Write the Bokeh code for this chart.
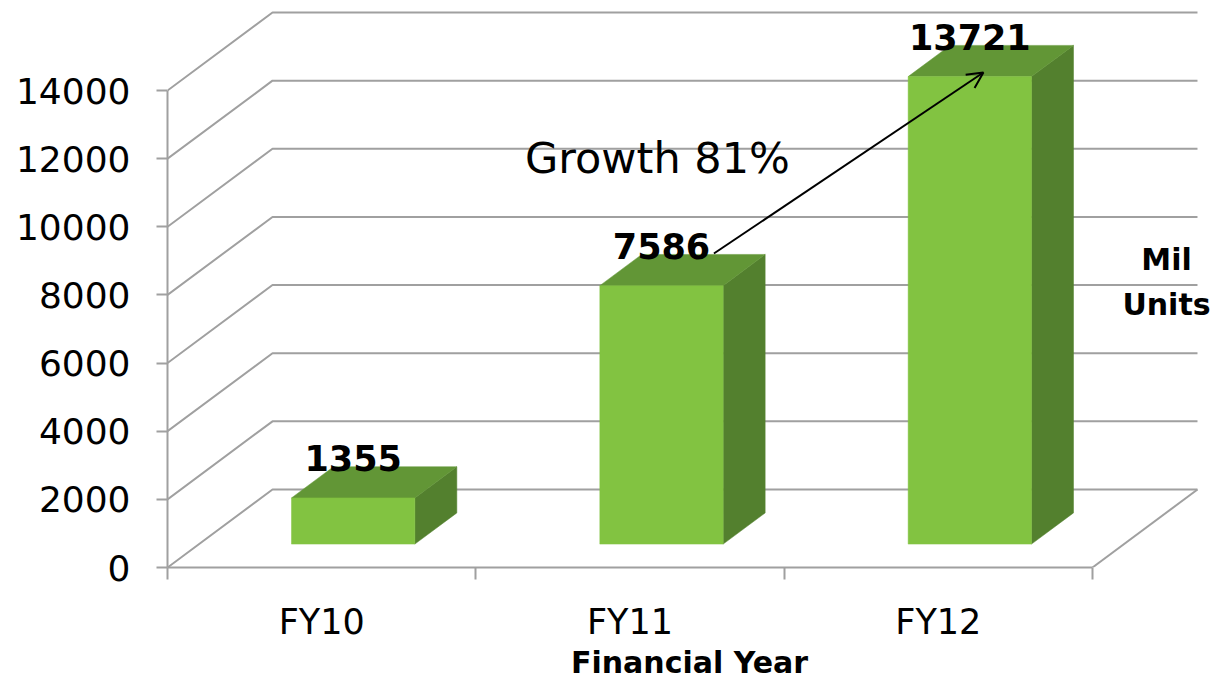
from bokeh.plotting import figure
from bokeh.models import Range1d, FixedTicker, Arrow, OpenHead
from bokeh.core.properties import value
from bokeh.embed import file_html
from bokeh.resources import INLINE

# ---- data ----
categories = ["FY10", "FY11", "FY12"]
units = [1355, 7586, 13721]
y_ticks = [0, 2000, 4000, 6000, 8000, 10000, 12000, 14000]
growth_text = "Growth 81%"
unit_lines = ["Mil", "Units"]
x_title = "Financial Year"

# ---- geometry (data units) ----
n = len(categories)
PX_PER_CAT = 308.33
PX_PER_UNIT = 477.0 / 14000.0
FRAME_W, FRAME_H = 1044, 567
X_END = FRAME_W / PX_PER_CAT
Y_END = FRAME_H / PX_PER_UNIT
DX = 105 / PX_PER_CAT          # full depth offset in x
DY = 78 / PX_PER_UNIT          # full depth offset in y
D0, D1 = 0.3, 0.7              # bar depth span
A, B = 0.3, 0.7                # bar width span inside a category
LABEL_GAP = 40 / PX_PER_UNIT

GRID = "#a0a0a0"
FRONT = "#82c341"
TOP = "#629636"
SIDE = "#53802e"
FONT = "DejaVu Sans"

p = figure(x_range=Range1d(0, X_END), y_range=Range1d(0, Y_END),
           frame_width=FRAME_W, frame_height=FRAME_H,
           min_border_left=167, min_border_bottom=113, min_border_top=0, min_border_right=0,
           output_backend="svg", toolbar_location=None)
p.xgrid.visible = False
p.ygrid.visible = False
p.outline_line_color = None
p.background_fill_color = "white"

# ---- back wall grid lines ----
gx, gy = [], []
for t in y_ticks:
    gx.append([0, DX, n + DX])
    gy.append([t, t + DY, t + DY])
gx.append([n, n + DX])
gy.append([0, DY])
p.multi_line(gx, gy, line_color=GRID, line_width=2)

# ---- bars ----
fx, fy, tx, ty, sx_, sy_ = [], [], [], [], [], []
for i, v in enumerate(units):
    sx, sy = D0 * DX, D0 * DY
    ex, ey = D1 * DX, D1 * DY
    l, r = i + A, i + B
    fx.append([l + sx, r + sx, r + sx, l + sx]); fy.append([sy, sy, v + sy, v + sy])
    tx.append([l + sx, r + sx, r + ex, l + ex]); ty.append([v + sy, v + sy, v + ey, v + ey])
    sx_.append([r + sx, r + ex, r + ex, r + sx]); sy_.append([sy, ey, v + ey, v + sy])
p.patches(sx_, sy_, fill_color=SIDE, line_color=SIDE, line_width=0.5)
p.patches(tx, ty, fill_color=TOP, line_color=TOP, line_width=0.5)
p.patches(fx, fy, fill_color=FRONT, line_color=FRONT, line_width=0.5)

# ---- value labels ----
lx = [i + 0.5 + D0 * DX for i in range(n)]
ly = [v + D0 * DY + LABEL_GAP for v in units]
p.text(lx, ly, text=[str(v) for v in units], text_align="center", text_baseline="alphabetic",
       text_font=value(FONT), text_font_style="bold", text_font_size="35px", text_color="black")

# ---- growth arrow ----
arrow_start = (1 + 0.5 + D0 * DX + 0.17, units[1] + 1630)
arrow_end = (2 + 0.5 + D0 * DX + 0.044, units[2] + 807)
p.add_layout(Arrow(end=OpenHead(size=16, line_width=2, line_color="black"),
                   x_start=arrow_start[0], y_start=arrow_start[1],
                   x_end=arrow_end[0], y_end=arrow_end[1],
                   line_width=2, line_color="black"))
p.text([1.589], [12030], text=[growth_text], text_align="center", text_baseline="alphabetic",
       text_font=value(FONT), text_font_size="43px", text_color="black")

# ---- unit label ----
p.text([3.24, 3.24], [(567 - 272 + 13) / PX_PER_UNIT, (567 - 317 + 13) / PX_PER_UNIT], text=unit_lines,
       text_align="center", text_baseline="alphabetic",
       text_font=value(FONT), text_font_style="bold", text_font_size="30px", text_color="black")

# ---- axes ----
ya = p.yaxis[0]
ya.ticker = FixedTicker(ticks=y_ticks, minor_ticks=[])
ya.bounds = (0, 14000)
ya.axis_line_color = GRID
ya.axis_line_width = 2
ya.major_tick_line_color = GRID
ya.major_tick_line_width = 2
ya.major_tick_out = 11
ya.major_tick_in = 0
ya.major_label_standoff = 26
ya.major_label_text_font = FONT
ya.major_label_text_font_size = "36px"
ya.major_label_text_color = "black"

xa = p.xaxis[0]
xa.ticker = FixedTicker(ticks=[i + 0.5 for i in range(n)], minor_ticks=list(range(n + 1)))
xa.major_label_overrides = {i + 0.5: c for i, c in enumerate(categories)}
xa.bounds = (0, n)
xa.axis_line_color = GRID
xa.axis_line_width = 2
xa.major_tick_out = 0
xa.major_tick_in = 0
xa.minor_tick_out = 12
xa.minor_tick_in = 0
xa.minor_tick_line_color = GRID
xa.minor_tick_line_width = 2
xa.major_label_standoff = 22
xa.major_label_text_font = FONT
xa.major_label_text_font_size = "35px"
xa.major_label_text_color = "black"
xa.axis_label = x_title
xa.axis_label_text_font = FONT
xa.axis_label_text_font_style = "bold"
xa.axis_label_text_font_size = "30px"
xa.axis_label_text_color = "black"
xa.axis_label_standoff = 0

open("out.html", "w").write(file_html(p, INLINE))
